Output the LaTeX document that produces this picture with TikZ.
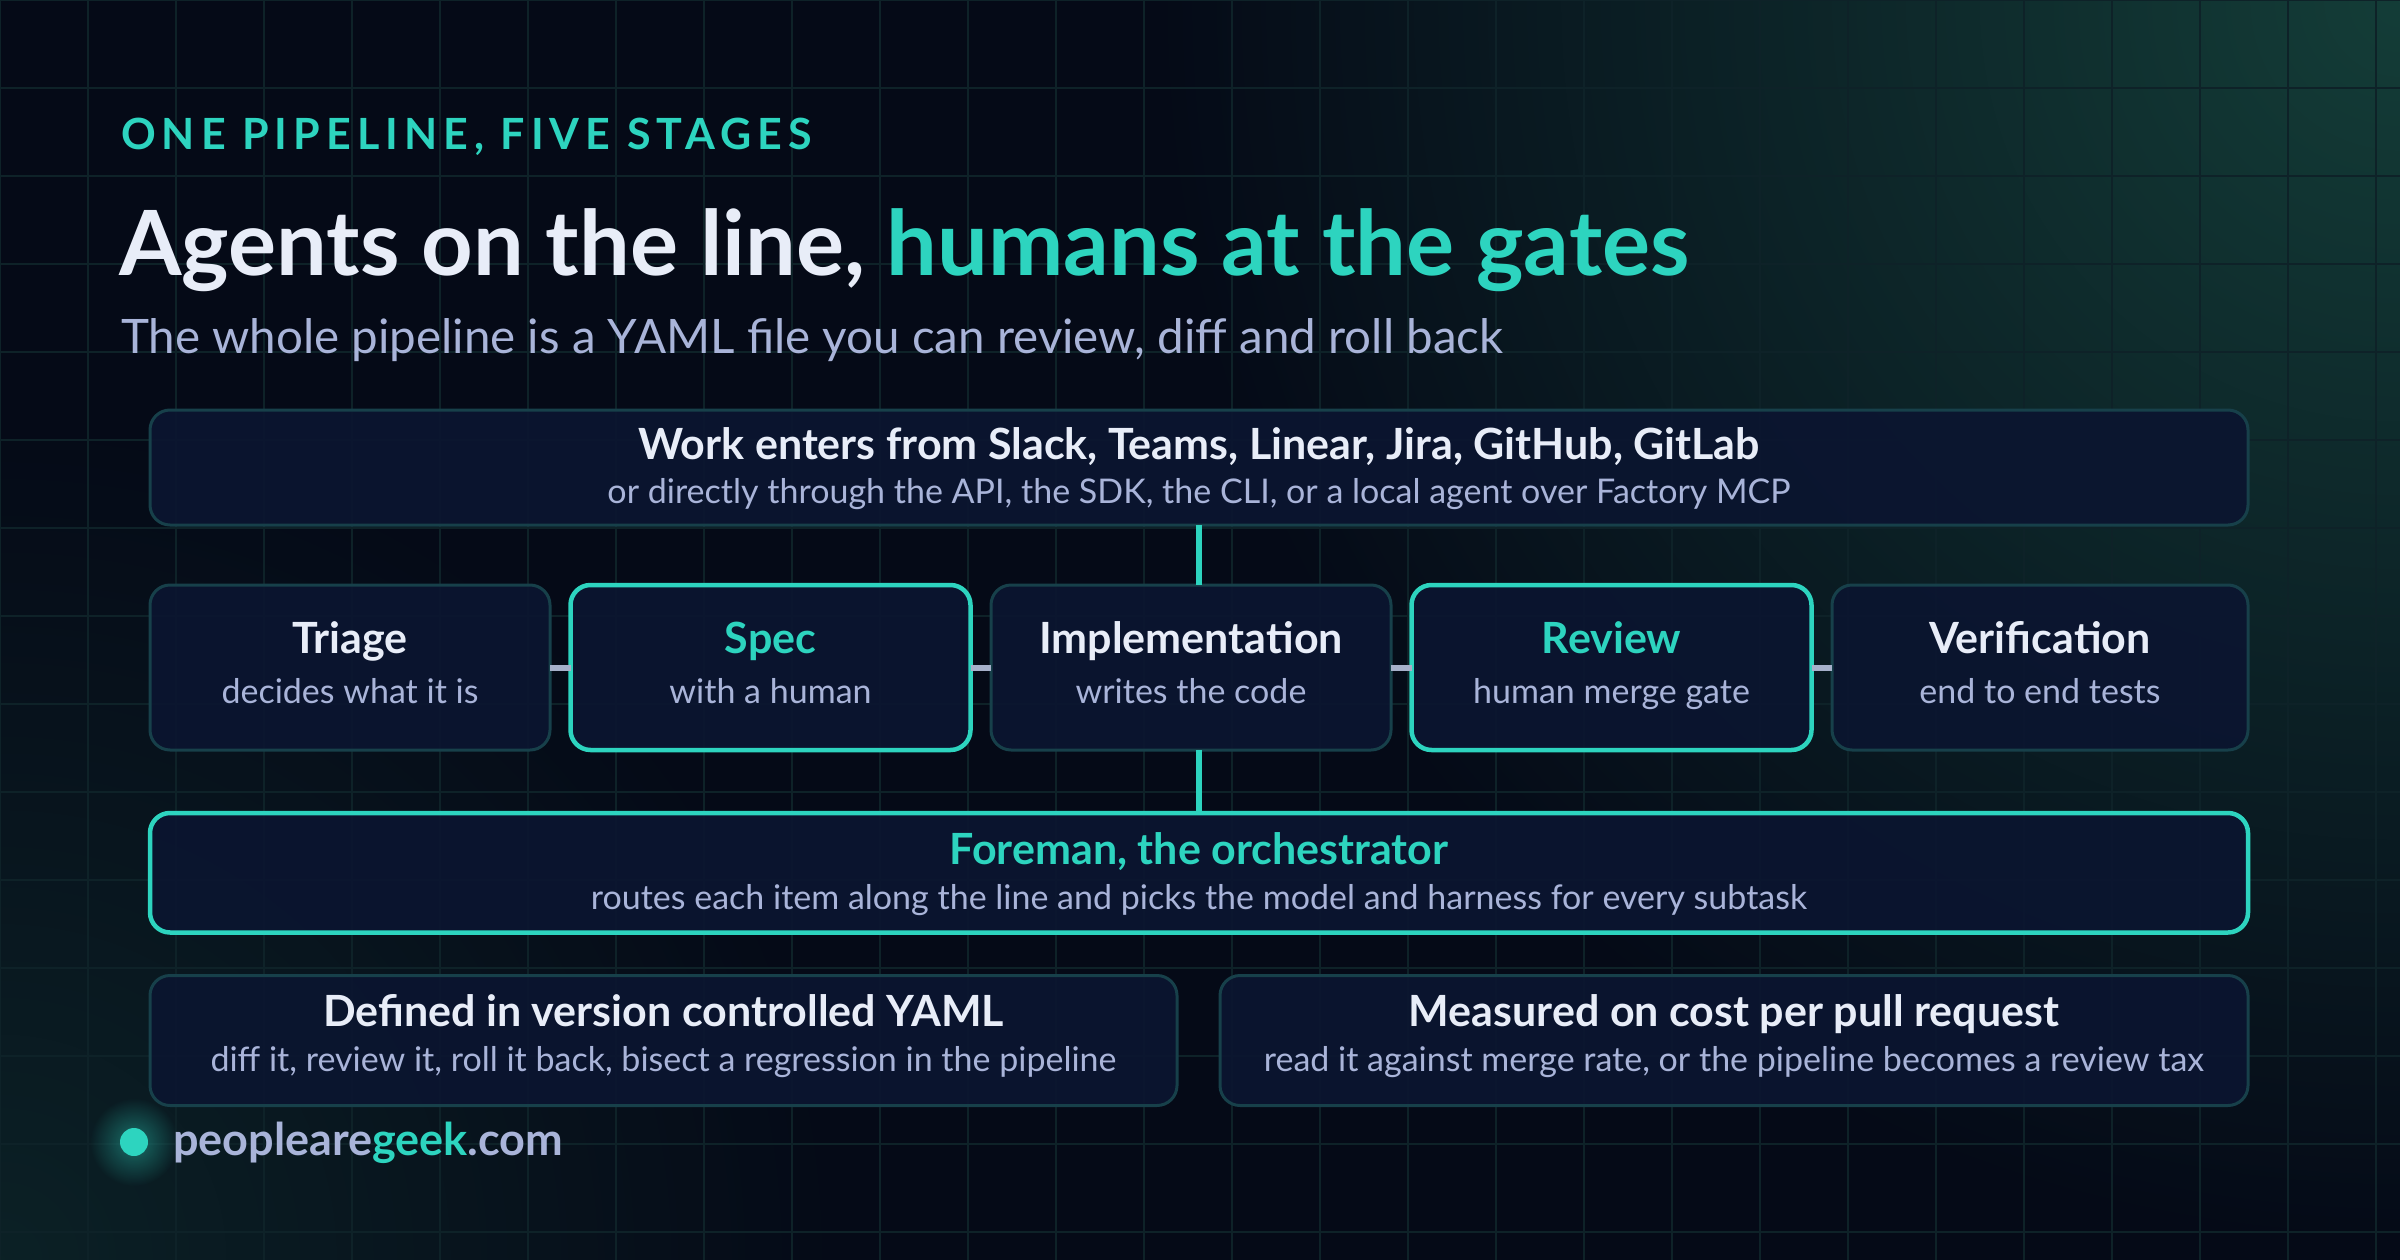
\documentclass[tikz,border=0pt]{standalone}
\usepackage{fontspec}
\setmainfont{Lato}
\newfontfamily\spaced[LetterSpace=14]{Lato}
\usetikzlibrary{positioning,fadings}
\tikzfading[name=glowfade, inner color=transparent!0, outer color=transparent!100]

\definecolor{bg}{HTML}{050A17}
\definecolor{panel}{HTML}{0B1530}
\definecolor{edge}{HTML}{17404A}
\definecolor{mint}{HTML}{2DD4BF}
\definecolor{ink}{HTML}{E8EDF8}
\definecolor{muted}{HTML}{A9B4D9}
\definecolor{wire}{HTML}{A6B0CA}
\definecolor{gridline}{HTML}{0E2228}
\definecolor{glow}{HTML}{143D38}

\begin{document}
\begin{tikzpicture}[x=1pt, y=-1pt,
  box/.style={draw=edge, line width=3pt, fill=panel, fill opacity=.92, rounded corners=20pt, outer sep=0pt, inner sep=0pt},
  gate/.style={box, draw=mint, line width=4.5pt},
  stagebox/.style={minimum width=400pt, minimum height=165pt},
  hd/.style={anchor=base, inner sep=0pt, text=ink, font=\fontsize{43}{49}\selectfont\bfseries},
  hdmint/.style={hd, text=mint},
  sub/.style={anchor=base, inner sep=0pt, text=muted, font=\fontsize{34}{40}\selectfont},
  link/.style={draw=mint, line width=6pt},
  wire/.style={draw=wire, line width=6pt}]
\useasboundingbox (0,0) rectangle (2400,1260);

% background, glow and grid
\fill[bg] (0,0) rectangle (2400,1260);
\begin{scope}
  \clip (0,0) rectangle (2400,1260);
  \fill[glow, path fading=glowfade] (2400,0) circle (1250);
  \fill[glow, opacity=.45, path fading=glowfade] (0,1260) circle (850);
\end{scope}
\foreach \gx in {0,88,...,2400} \draw[gridline, line width=1.5pt] (\gx,0) -- (\gx,1260);
\foreach \gy in {0,88,...,1260} \draw[gridline, line width=1.5pt] (0,\gy) -- (2400,\gy);

% header
\node[anchor=base west, inner sep=0pt, text=mint, font=\fontsize{43}{50}\spaced\bfseries] (kicker) at (121,150) {ONE PIPELINE, FIVE STAGES};
\node[anchor=base west, inner sep=0pt, text=ink, font=\fontsize{90}{100}\selectfont\bfseries] (headline) at (119,275) {Agents on the line, \textcolor{mint}{humans at the gates}};
\node[anchor=base west, inner sep=0pt, text=muted, font=\fontsize{47.5}{55}\selectfont] (tagline) at (121,353) {The whole pipeline is a YAML file you can review, diff and roll back};

% intake
\node[box, minimum width=2098pt, minimum height=115pt] (intake) at (1199,467.5) {};
\node[hd] (intake-t) at ([yshift=8.5pt]intake.center) {Work enters from Slack, Teams, Linear, Jira, GitHub, GitLab};
\node[sub] (intake-s) at ([yshift=-35.5pt]intake.center) {or directly through the API, the SDK, the CLI, or a local agent over Factory MCP};

% five stages
\node[box, stagebox, below right=60pt and 0pt of intake.south west] (triage) {};
\node[gate, stagebox, right=20.5pt of triage] (spec) {};
\node[box, stagebox, right=20.5pt of spec] (impl) {};
\node[gate, stagebox, right=20.5pt of impl] (review) {};
\node[box, stagebox, minimum width=416pt, right=20.5pt of review] (verify) {};

\node[hd] (triage-t) at ([yshift=14.5pt]triage.center) {Triage};
\node[sub] (triage-s) at ([yshift=-35.5pt]triage.center) {decides what it is};
\node[hdmint] (spec-t) at ([yshift=14.5pt]spec.center) {Spec};
\node[sub] (spec-s) at ([yshift=-35.5pt]spec.center) {with a human};
\node[hd] (impl-t) at ([yshift=14.5pt]impl.center) {Implementation};
\node[sub] (impl-s) at ([yshift=-35.5pt]impl.center) {writes the code};
\node[hdmint] (review-t) at ([yshift=14.5pt]review.center) {Review};
\node[sub] (review-s) at ([yshift=-35.5pt]review.center) {human merge gate};
\node[hd] (verify-t) at ([yshift=14.5pt]verify.center) {Verification};
\node[sub] (verify-s) at ([yshift=-35.5pt]verify.center) {end to end tests};

% orchestrator
\node[gate, minimum width=2098pt, minimum height=119.5pt, below right=63pt and 0pt of triage.south west] (foreman) {};
\node[hdmint] (foreman-t) at ([yshift=8pt]foreman.center) {Foreman, the orchestrator};
\node[sub] (foreman-s) at ([yshift=-37pt]foreman.center) {routes each item along the line and picks the model and harness for every subtask};

% notes
\node[box, minimum width=1027pt, minimum height=130pt, below right=43pt and 0pt of foreman.south west] (yaml) {};
\node[box, minimum width=1028pt, minimum height=130pt, below left=43pt and 0pt of foreman.south east] (cost) {};
\node[hd] (yaml-t) at ([yshift=14.5pt]yaml.center) {Defined in version controlled YAML};
\node[sub] (yaml-s) at ([yshift=-31pt]yaml.center) {diff it, review it, roll it back, bisect a regression in the pipeline};
\node[hd] (cost-t) at ([yshift=14.5pt]cost.center) {Measured on cost per pull request};
\node[sub] (cost-s) at ([yshift=-31pt]cost.center) {read it against merge rate, or the pipeline becomes a review tax};

% connectors
\draw[link] (intake.south) -- (intake.south |- impl.north);
\draw[link] (foreman.north |- impl.south) -- (foreman.north);
\draw[wire] (triage) -- (spec);
\draw[wire] (spec) -- (impl);
\draw[wire] (impl) -- (review);
\draw[wire] (review) -- (verify);

% footer
\fill[mint, opacity=.45, path fading=glowfade] (134,1142) circle (44);
\node[circle, fill=mint, minimum size=28pt, inner sep=0pt] (dot) at (134,1142) {};
\node[anchor=base west, inner sep=0pt, text=muted, font=\fontsize{45}{52}\selectfont\bfseries] (site) at (173,1155) {peopleare\textcolor{mint}{geek}.com};
\end{tikzpicture}
\end{document}
